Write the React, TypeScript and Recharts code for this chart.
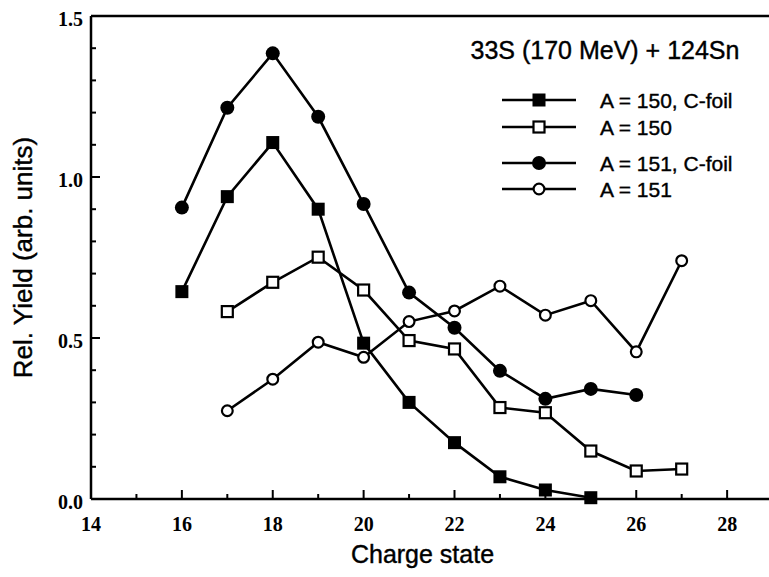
import React from 'react';
import { LineChart, Line, XAxis, YAxis, ReferenceLine, Legend, Label } from 'recharts';

const chargeStates = [16, 17, 18, 19, 20, 21, 22, 23, 24, 25, 26, 27];
const a150CFoil = [0.644, 0.939, 1.107, 0.9, 0.484, 0.3, 0.175, 0.069, 0.028, 0.004, null, null];
const a150 = [null, 0.582, 0.673, 0.751, 0.649, 0.492, 0.466, 0.284, 0.268, 0.149, 0.087, 0.093];
const a151CFoil = [0.905, 1.215, 1.384, 1.187, 0.916, 0.641, 0.532, 0.398, 0.311, 0.342, 0.323, null];
const a151 = [null, 0.274, 0.372, 0.487, 0.44, 0.551, 0.584, 0.661, 0.571, 0.616, 0.457, 0.74];

const xTicks = [14, 15, 16, 17, 18, 19, 20, 21, 22, 23, 24, 25, 26, 27, 28, 29, 30];
const xLabelled = [14, 16, 18, 20, 22, 24, 26, 28];
const yTicks = [0, 0.1, 0.2, 0.3, 0.4, 0.5, 0.6, 0.7, 0.8, 0.9, 1.0, 1.1, 1.2, 1.3, 1.4, 1.5];

const title = '33S (170 MeV) + 124Sn';
const xTitle = 'Charge state';
const yTitle = 'Rel. Yield (arb. units)';

const seriesNames = ['A = 150, C-foil', 'A = 150', 'A = 151, C-foil', 'A = 151'];
const seriesKeys = ['a150c', 'a150', 'a151c', 'a151'];
const seriesMarkers = ['filledSquare', 'openSquare', 'filledCircle', 'openCircle'];

const rows = chargeStates.map((c, i) => ({
  charge: c,
  a150c: a150CFoil[i],
  a150: a150[i],
  a151c: a151CFoil[i],
  a151: a151[i],
}));

const SANS = '"Liberation Sans", Arial, Helvetica, sans-serif';
const SERIF = '"Liberation Serif", "Times New Roman", serif';

function Marker({ kind, cx, cy }: { kind: string; cx: number; cy: number }) {
  if (kind === 'filledSquare') {
    return <rect x={cx - 6.5} y={cy - 6.5} width={13} height={13} fill="#000" />;
  }
  if (kind === 'openSquare') {
    return <rect x={cx - 5.5} y={cy - 5.5} width={11} height={11} fill="#fff" stroke="#000" strokeWidth={2.2} />;
  }
  if (kind === 'filledCircle') {
    return <circle cx={cx} cy={cy} r={7} fill="#000" />;
  }
  return <circle cx={cx} cy={cy} r={5.4} fill="#fff" stroke="#000" strokeWidth={2.2} />;
}

const makeDot = (kind: string) => (props: any) => {
  const { cx, cy, index, value } = props;
  if (value === null || value === undefined || cy === null || cy === undefined || isNaN(cy)) {
    return <g key={`e-${kind}-${index}`} />;
  }
  return (
    <g key={`d-${kind}-${index}`}>
      <Marker kind={kind} cx={cx} cy={cy} />
    </g>
  );
};

const XTick = (props: any) => {
  const { x, y, payload } = props;
  const v = payload.value;
  const major = v % 2 === 0;
  const labelled = xLabelled.indexOf(v) >= 0;
  return (
    <g>
      <line x1={x} x2={x} y1={y} y2={y - (major ? 9 : 5)} stroke="#000" strokeWidth={2} />
      {labelled && (
        <text x={x} y={y + 32} textAnchor="middle" fontFamily={SERIF} fontWeight="bold" fontSize={20} fill="#000">
          {v}
        </text>
      )}
    </g>
  );
};

const YTick = (props: any) => {
  const { x, y, payload } = props;
  const v = payload.value;
  const major = Math.round(v * 10) % 5 === 0;
  return (
    <g>
      <line x1={x} x2={x + (major ? 9 : 5)} y1={y} y2={y} stroke="#000" strokeWidth={2} />
      {major && (
        <text x={x - 8} y={y + 3} dy="0.35em" textAnchor="end" fontFamily={SERIF} fontWeight="bold" fontSize={20} fill="#000">
          {v.toFixed(1)}
        </text>
      )}
    </g>
  );
};

const LegendBox = () => {
  const rowY = [70, 97, 133, 159];
  return (
    <svg width={300} height={180} style={{ display: 'block', overflow: 'visible' }}>
      <text x={145} y={29} textAnchor="middle" fontFamily={SANS} fontSize={25} fill="#000" stroke="#000" strokeWidth={0.4}>
        {title}
      </text>
      {seriesNames.map((name, i) => (
        <g key={name}>
          <line x1={42} x2={116} y1={rowY[i]} y2={rowY[i]} stroke="#000" strokeWidth={2.5} />
          <Marker kind={seriesMarkers[i]} cx={79} cy={rowY[i]} />
          <text x={140} y={rowY[i]} dy="0.36em" fontFamily={SANS} fontSize={21} fill="#000" stroke="#000" strokeWidth={0.4}>
            {name}
          </text>
        </g>
      ))}
    </svg>
  );
};

export default function App() {
  return (
    <div style={{ position: 'absolute', left: 0, top: 0, width: 769, height: 577, overflow: 'hidden', background: '#fff' }}>
      <LineChart width={830} height={577} data={rows} margin={{ top: 16, right: 12, bottom: 32, left: 31 }}>
        <XAxis
          dataKey="charge"
          type="number"
          domain={[14, 30]}
          ticks={xTicks}
          interval={0}
          allowDataOverflow
          height={46}
          tickSize={0}
          tickMargin={0}
          tickLine={false}
          tick={<XTick />}
          axisLine={{ stroke: '#000', strokeWidth: 2.5 }}
        >
          <Label value={xTitle} position="bottom" offset={0} dx={-32} style={{ fontFamily: SANS, fontSize: 25, fill: '#000', stroke: '#000', strokeWidth: 0.4 }} />
        </XAxis>
        <YAxis
          type="number"
          domain={[0, 1.5]}
          ticks={yTicks}
          interval={0}
          width={60}
          tickSize={0}
          tickMargin={0}
          tickLine={false}
          tick={<YTick />}
          axisLine={{ stroke: '#000', strokeWidth: 2.5 }}
        >
          <Label value={yTitle} angle={-90} position="left" offset={8} style={{ fontFamily: SANS, fontSize: 26, fill: '#000', stroke: '#000', strokeWidth: 0.4, textAnchor: 'middle' }} />
        </YAxis>
        <ReferenceLine y={1.5} stroke="#000" strokeWidth={2.5} />
        <Legend
          layout="vertical"
          align="center"
          verticalAlign="middle"
          content={() => <LegendBox />}
          wrapperStyle={{ position: 'absolute', left: 460, top: 30, width: 300, height: 180 }}
        />
        {seriesKeys.map((k, i) => (
          <Line
            key={k}
            dataKey={k}
            name={seriesNames[i]}
            stroke="#000"
            strokeWidth={2.6}
            dot={makeDot(seriesMarkers[i])}
            activeDot={false}
            isAnimationActive={false}
            connectNulls={false}
          />
        ))}
      </LineChart>
    </div>
  );
}
